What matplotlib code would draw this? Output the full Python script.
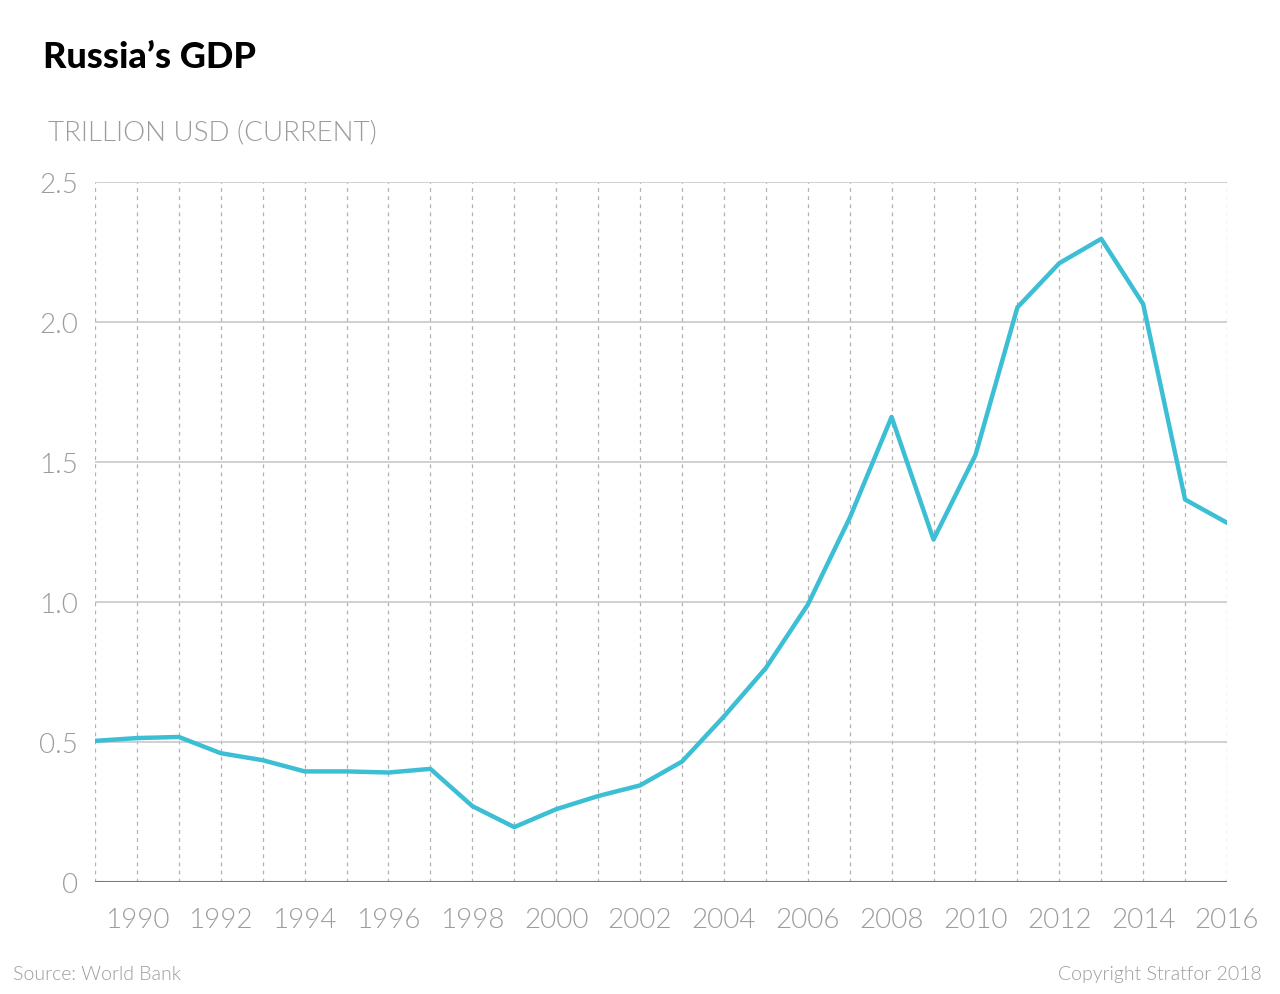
import matplotlib
matplotlib.use("Agg")
from matplotlib import pyplot as plt

years = list(range(1989, 2017))
gdp = [0.504, 0.514, 0.518, 0.460, 0.435, 0.395, 0.395, 0.391, 0.404, 0.271,
       0.196, 0.260, 0.307, 0.345, 0.430, 0.591, 0.764, 0.990, 1.300, 1.661,
       1.223, 1.525, 2.052, 2.210, 2.297, 2.064, 1.366, 1.283]
yticks = [0, 0.5, 1.0, 1.5, 2.0, 2.5]
ylabels = ["0", "0.5", "1.0", "1.5", "2.0", "2.5"]
xticks = list(range(1990, 2017, 2))

plt.rcParams["font.family"] = ["Lato", "DejaVu Sans"]
grey = "#9c9c9c"
thin = 300

fig = plt.figure(figsize=(12.8, 9.95), dpi=100)
ax = fig.add_axes([95/1280, 112/995, 1132/1280, 700/995])

for y in years:
    ax.axvline(y, color="#b0b0b0", lw=0.9, ls=(0, (3, 3.5)), zorder=1)
for t in yticks[1:]:
    ax.axhline(t, color="#c8c8c8", lw=1.2, zorder=1)
ax.axhline(0, color="#7a7a7a", lw=1.5, zorder=2)

ax.plot(years, gdp, color="#3cbfd4", lw=3.2, zorder=3)

ax.set_xlim(1989, 2016)
ax.set_ylim(0, 2.5)
ax.set_yticks(yticks)
ax.set_yticklabels(ylabels)
ax.set_xticks(xticks)
ax.set_xticklabels([str(x) for x in xticks])
ax.tick_params(axis="both", length=0, labelsize=20, labelcolor=grey)
ax.tick_params(axis="x", pad=18)
ax.tick_params(axis="y", pad=12)
for lab in ax.get_xticklabels() + ax.get_yticklabels():
    lab.set_fontweight(thin)
for s in ax.spines.values():
    s.set_visible(False)

fig.text(43/1280, 1 - 57/995, "Russia\u2019s GDP", fontsize=26, fontweight="black",
         color="black", va="center", ha="left")
fig.text(48/1280, 1 - 133/995, "TRILLION USD (CURRENT)", fontsize=20,
         fontweight=thin, color=grey, va="center", ha="left")
fig.text(13/1280, 1 - 975/995, "Source: World Bank", fontsize=14,
         fontweight=thin, color=grey, va="center", ha="left")
fig.text(1262/1280, 1 - 975/995, "Copyright Stratfor 2018", fontsize=14,
         fontweight=thin, color=grey, va="center", ha="right")

fig.savefig("out.png", dpi=100, facecolor="white")
